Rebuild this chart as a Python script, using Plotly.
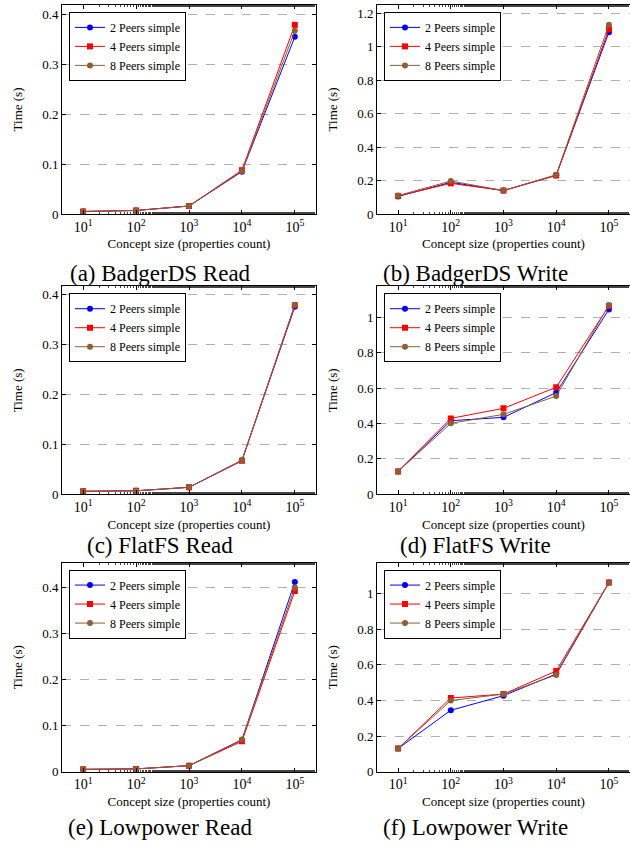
import plotly.graph_objects as go

sizes = [10, 100, 1000, 10000, 100000]
series_names = ["2 Peers simple", "4 Peers simple", "8 Peers simple"]

badger_read_2 = [0.005, 0.007, 0.016, 0.085, 0.356]
badger_read_4 = [0.005, 0.007, 0.016, 0.088, 0.380]
badger_read_8 = [0.005, 0.007, 0.016, 0.086, 0.368]

badger_write_2 = [0.105, 0.189, 0.140, 0.232, 1.087]
badger_write_4 = [0.108, 0.183, 0.140, 0.230, 1.105]
badger_write_8 = [0.110, 0.197, 0.140, 0.234, 1.132]

flat_read_2 = [0.006, 0.007, 0.014, 0.068, 0.376]
flat_read_4 = [0.006, 0.007, 0.014, 0.067, 0.379]
flat_read_8 = [0.006, 0.007, 0.014, 0.068, 0.380]

flat_write_2 = [0.129, 0.416, 0.435, 0.575, 1.045]
flat_write_4 = [0.129, 0.429, 0.486, 0.605, 1.065]
flat_write_8 = [0.129, 0.401, 0.452, 0.555, 1.070]

low_read_2 = [0.005, 0.006, 0.013, 0.069, 0.413]
low_read_4 = [0.005, 0.006, 0.013, 0.066, 0.393]
low_read_8 = [0.005, 0.006, 0.013, 0.070, 0.401]

low_write_2 = [0.130, 0.345, 0.427, 0.549, 1.063]
low_write_4 = [0.130, 0.414, 0.436, 0.566, 1.063]
low_write_8 = [0.130, 0.400, 0.436, 0.544, 1.063]

captions = ["(a) BadgerDS Read", "(b) BadgerDS Write", "(c) FlatFS Read",
            "(d) FlatFS Write", "(e) Lowpower Read", "(f) Lowpower Write"]

panels = [
    (badger_read_2, badger_read_4, badger_read_8),
    (badger_write_2, badger_write_4, badger_write_8),
    (flat_read_2, flat_read_4, flat_read_8),
    (flat_write_2, flat_write_4, flat_write_8),
    (low_read_2, low_read_4, low_read_8),
    (low_write_2, low_write_4, low_write_8),
]

y_ranges = [[0, 0.42], [0, 1.25], [0, 0.417], [0, 1.176], [0, 0.455], [0, 1.175]]
y_ticks = [
    [0, 0.1, 0.2, 0.3, 0.4],
    [0, 0.2, 0.4, 0.6, 0.8, 1.0, 1.2],
    [0, 0.1, 0.2, 0.3, 0.4],
    [0, 0.2, 0.4, 0.6, 0.8, 1.0],
    [0, 0.1, 0.2, 0.3, 0.4],
    [0, 0.2, 0.4, 0.6, 0.8, 1.0],
]
y_ticktext = [
    ["0", "0.1", "0.2", "0.3", "0.4"],
    ["0", "0.2", "0.4", "0.6", "0.8", "1", "1.2"],
    ["0", "0.1", "0.2", "0.3", "0.4"],
    ["0", "0.2", "0.4", "0.6", "0.8", "1"],
    ["0", "0.1", "0.2", "0.3", "0.4"],
    ["0", "0.2", "0.4", "0.6", "0.8", "1"],
]
x_tickvals = [10, 100, 1000, 10000, 100000]
x_ticktext = ["10<sup>1</sup>", "10<sup>2</sup>", "10<sup>3</sup>", "10<sup>4</sup>", "10<sup>5</sup>"]

colors = ["#0000FF", "#FF0000", "#8E5E34"]
symbols = ["circle", "square", "circle"]

W, H = 630, 848
FONT = "Liberation Serif"

col_px = [(62, 316), (377, 631)]
row_px = [(5, 216), (289, 499), (568, 779)]
caption_y = [276, 551, 835]

fig = go.Figure()
layout = dict(
    width=W, height=H, margin=dict(l=0, r=0, t=0, b=0),
    paper_bgcolor="white", plot_bgcolor="white",
    font=dict(family=FONT, size=12, color="black"),
    showlegend=True,
)

annotations = []
for i, (vals, cap) in enumerate(zip(panels, captions)):
    r, c = divmod(i, 2)
    idx = "" if i == 0 else str(i + 1)
    xa = "x" + idx
    ya = "y" + idx
    leg = "legend" + idx
    for k in range(3):
        fig.add_trace(go.Scatter(
            x=sizes, y=vals[k], name=series_names[k], mode="lines+markers",
            line=dict(color=colors[k], width=1),
            marker=dict(color=colors[k], symbol=symbols[k], size=6),
            xaxis=xa, yaxis=ya, legend=leg,
        ))
    x0, x1 = col_px[c]
    y0, y1 = row_px[r]
    xd = [x0 / W, min(x1 / W, 1.0)]
    yd = [1 - y1 / H, 1 - y0 / H]
    layout["xaxis" + idx] = dict(
        domain=xd, anchor=ya, type="log", range=[0.6, 5.4],
        tickvals=x_tickvals, ticktext=x_ticktext,
        ticks="inside", ticklen=4, tickcolor="black",
        minor=dict(ticks="inside", ticklen=2, tickcolor="#444", showgrid=False),
        showline=True, linecolor="black", linewidth=1, mirror="ticks",
        showgrid=False, zeroline=False,
        tickfont=dict(family=FONT, size=14),
        title=dict(text="Concept size (properties count)",
                   font=dict(family=FONT, size=13), standoff=5),
    )
    layout["yaxis" + idx] = dict(
        domain=yd, anchor=xa, range=y_ranges[i],
        tickvals=y_ticks[i], ticktext=y_ticktext[i],
        ticks="inside", ticklen=4, tickcolor="black",
        showline=True, linecolor="black", linewidth=1,
        mirror=("ticks" if c == 0 else False),
        showgrid=True, gridcolor="#b0b0b0", griddash="dash", gridwidth=1,
        zeroline=False,
        tickfont=dict(family=FONT, size=13),
        title=dict(text="Time (s)", font=dict(family=FONT, size=13), standoff=16),
    )
    layout[leg] = dict(
        x=(x0 + 7) / W, y=1 - (y0 + 7) / H, xanchor="left", yanchor="top",
        xref="paper", yref="paper",
        bgcolor="white", bordercolor="black", borderwidth=1,
        font=dict(family=FONT, size=12), itemwidth=30, tracegroupgap=0,
    )
    annotations.append(dict(
        text=cap, x=((x0 + x1) / 2 - 29) / W,
        y=1 - caption_y[r] / H, xref="paper", yref="paper",
        xanchor="center", yanchor="middle", showarrow=False,
        font=dict(family=FONT, size=23, color="black"),
    ))

layout["annotations"] = annotations
fig.update_layout(**layout)
fig.write_html("out.html")
